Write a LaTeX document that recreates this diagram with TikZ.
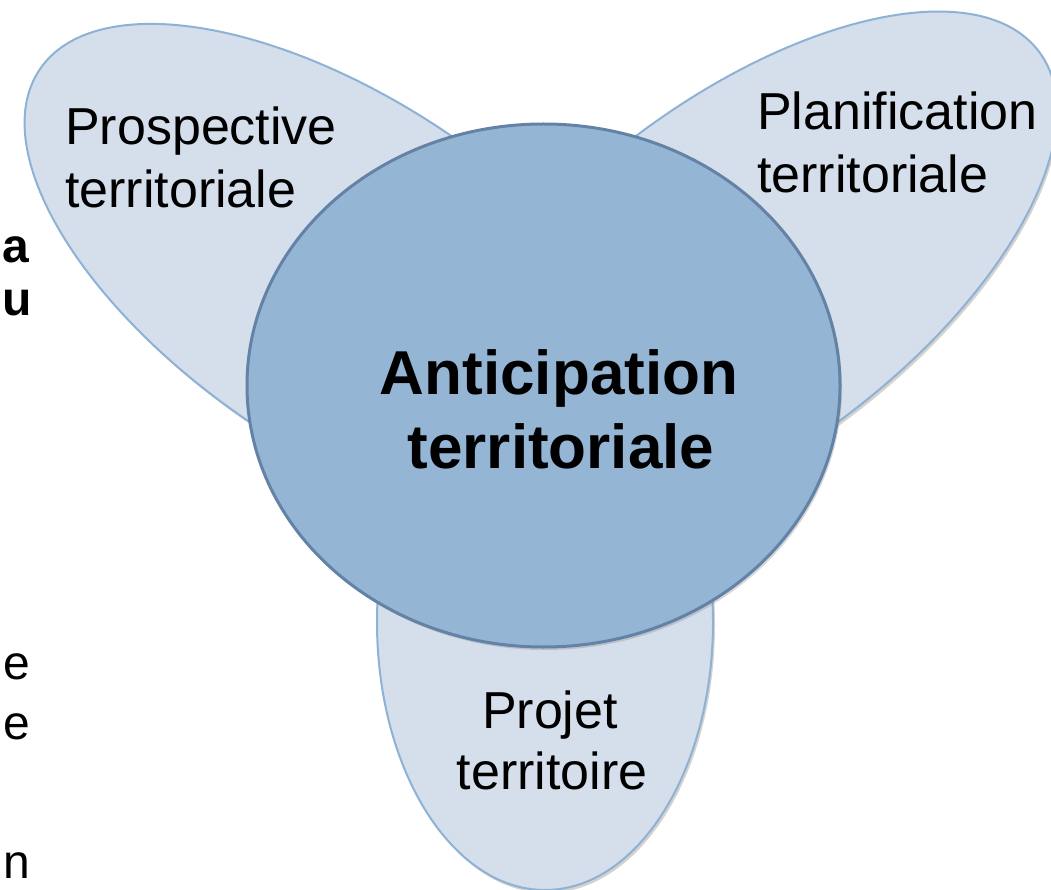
\documentclass[tikz,border=0pt]{standalone}
\usepackage{fontspec}
\setmainfont{Liberation Sans}
\usetikzlibrary{shapes.geometric,shadows}
\definecolor{petalfill}{HTML}{D5DEEB}
\definecolor{petalline}{HTML}{8DB2D6}
\definecolor{corefill}{HTML}{94B5D4}
\definecolor{coreline}{HTML}{6482A5}
\tikzset{
  petal/.style={ellipse, inner sep=0pt, fill=petalfill, draw=petalline, line width=2pt,
    drop shadow={opacity=0.35, shadow xshift=2pt, shadow yshift=-3pt, fill=gray!80!brown}},
  core/.style={ellipse, inner sep=0pt, fill=corefill, draw=coreline, line width=3pt,
    drop shadow={opacity=0.3, shadow xshift=2pt, shadow yshift=-3pt, fill=gray}},
  lbl/.style={inner sep=0pt, font=\fontsize{52}{62}\selectfont},
  bigl/.style={inner sep=0pt, font=\fontsize{62}{75}\selectfont\bfseries},
  frag/.style={inner sep=0pt, font=\fontsize{48}{58}\selectfont},
  fragb/.style={inner sep=0pt, font=\fontsize{48}{58}\selectfont\bfseries}
}
\begin{document}
\begin{tikzpicture}[x=1pt,y=-1pt]
\useasboundingbox (0,0) rectangle (1051,890);
\clip (0,0) rectangle (1051,890);
\fill[white] (0,0) rectangle (1051,890);
% petals
\node[petal, minimum width=746, minimum height=350, rotate=-34] (pleft) at (349,278) {};
\node[petal, minimum width=746, minimum height=350, rotate=37] (pright) at (741,276) {};
\node[petal, minimum width=336, minimum height=536] (pbottom) at (545,622) {};
% central circle
\node[core, minimum width=593, minimum height=523] (core) at (543.5,385.5) {};
% labels
\node[lbl, anchor=base west] (pros1) at (65,145) {Prospective};
\node[lbl, anchor=base west] (pros2) at (65,208) {territoriale};
\node[lbl, anchor=base west] (plan1) at (757,130) {Planification};
\node[lbl, anchor=base west] (plan2) at (757,193) {territoriale};
\node[bigl, anchor=base] (ant1) at (559,394) {Anticipation};
\node[bigl, anchor=base] (ant2) at (561,468) {territoriale};
\node[lbl, anchor=base] (proj1) at (550,728) {Projet};
\node[lbl, anchor=base] (proj2) at (552,789) {territoire};
% fragments of text at the left edge
\node[fragb, anchor=base west] (fa) at (2,263) {a};
\node[fragb, anchor=base west] (fu) at (2,316) {u};
\node[frag, anchor=base west] (fe1) at (3,679) {e};
\node[frag, anchor=base west] (fe2) at (3,739) {e};
\node[frag, anchor=base west] (fn) at (3,878) {n};
\end{tikzpicture}
\end{document}
